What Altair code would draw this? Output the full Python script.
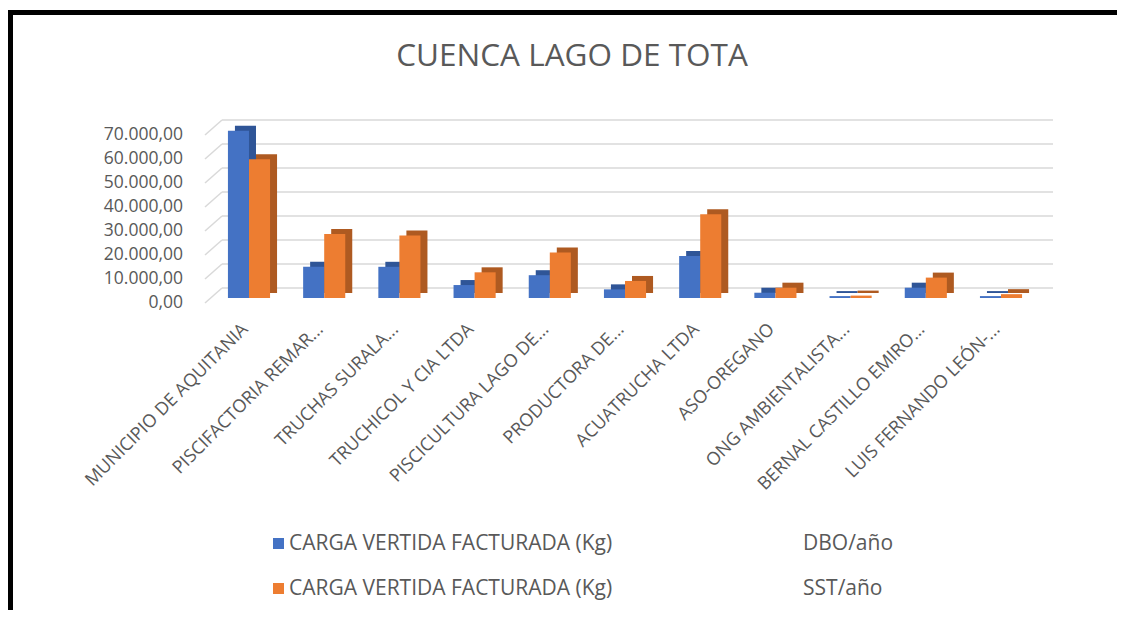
import altair as alt
import pandas as pd

categories = [
    "MUNICIPIO DE AQUITANIA", "PISCIFACTORIA REMAR...", "TRUCHAS SURALA...",
    "TRUCHICOL Y CIA LTDA", "PISCICULTURA LAGO DE...", "PRODUCTORA DE...",
    "ACUATRUCHA LTDA", "ASO-OREGANO", "ONG AMBIENTALISTA...",
    "BERNAL CASTILLO EMIRO...", "LUIS FERNANDO LEÓN-...",
]
dbo = [69700, 13000, 13000, 5400, 9500, 3600, 17500, 2200, 800, 4300, 800]
sst = [57800, 26700, 26000, 10700, 19000, 7100, 34900, 4300, 1000, 8500, 1600]
series = ["CARGA VERTIDA FACTURADA (Kg) DBO/año", "CARGA VERTIDA FACTURADA (Kg) SST/año"]
colors = ["#4472C4", "#ED7D31"]
side_colors = ["#2F5597", "#AE5A21"]
y_ticks = [0, 10000, 20000, 30000, 40000, 50000, 60000, 70000]
y_tick_labels = ["0,00", "10.000,00", "20.000,00", "30.000,00", "40.000,00",
                 "50.000,00", "60.000,00", "70.000,00"]

rows = []
for c, a, b in zip(categories, dbo, sst):
    rows.append({"cat": c, "series": series[0], "value": a})
    rows.append({"cat": c, "series": series[1], "value": b})
df = pd.DataFrame(rows)
grid_df = pd.DataFrame({"tick": y_ticks, "label": y_tick_labels})

FONT = "Open Sans"
GREY = "#595959"
W, H = 840, 168
YMAX = 70000
PX = YMAX / H  # data units per pixel
P_IN, P_OUT = 0.44, 0.305
STEP = W / (len(categories) - P_IN + 2 * P_OUT)
BW = (1 - P_IN) * STEP
DEPTH = 7

xenc = alt.X("cat:N", sort=categories,
             scale=alt.Scale(paddingInner=P_IN, paddingOuter=P_OUT),
             axis=alt.Axis(title=None, labelAngle=-45, labelAlign="right",
                           labelBaseline="top", labelPadding=22, labelOffset=-10,
                           labelFontSize=18, labelFont=FONT, labelColor=GREY,
                           domain=False, ticks=False, labelLimit=400))
yscale = alt.Scale(domain=[0, YMAX], nice=False)

grid = alt.Chart(grid_df).mark_rule(color="#D9D9D9", strokeWidth=1.5, yOffset=-10).encode(
    y=alt.Y("tick:Q", scale=yscale, axis=None),
    x=alt.value(17), x2=alt.value(W + 8),
)
diag = alt.Chart(grid_df).transform_calculate(
    y_front=f"datum.tick - 5 * {PX}", y_back=f"datum.tick + 10 * {PX}"
).mark_rule(color="#D9D9D9", strokeWidth=1.5).encode(
    y=alt.Y("y_front:Q", scale=yscale, axis=None),
    y2=alt.Y2("y_back:Q"),
    x=alt.value(0), x2=alt.value(17),
)
ylabels = alt.Chart(grid_df).mark_text(
    align="right", baseline="middle", dy=5, fontSize=17.5, font=FONT, color=GREY
).encode(
    y=alt.Y("tick:Q", scale=yscale, axis=None),
    text="label:N",
    x=alt.value(-22),
)

shadow = alt.Chart(df).mark_bar(yOffset=-5).encode(
    x=xenc,
    xOffset=alt.XOffset("series:N", sort=series,
                        scale=alt.Scale(range=[DEPTH, DEPTH + BW], paddingInner=0)),
    y=alt.Y("value:Q", scale=yscale, axis=None),
    color=alt.condition(alt.datum.series == series[0],
                        alt.value(side_colors[0]), alt.value(side_colors[1])),
)

nbsp = "\u00a0" * 35
front = alt.Chart(df).mark_bar().encode(
    x=xenc,
    xOffset=alt.XOffset("series:N", sort=series),
    y=alt.Y("value:Q", scale=yscale, axis=None),
    color=alt.Color("series:N", sort=series,
                    scale=alt.Scale(domain=series, range=colors),
                    legend=alt.Legend(title=None, orient="none", legendX=63,
                                      legendY=403, direction="vertical",
                                      symbolType="square", symbolSize=121,
                                      symbolStrokeWidth=0, labelFontSize=21,
                                      labelFont=FONT, labelColor=GREY,
                                      rowPadding=23, labelOffset=0,
                                      labelLimit=1000, padding=0,
                                      labelExpr="replace(datum.label, ' (Kg) ', ' (Kg)" + nbsp + "')")),
)

border = alt.Chart(pd.DataFrame({"k": [0]})).mark_rect(
    fillOpacity=0, stroke="black", strokeWidth=5).encode(
    x=alt.value(-194.5), x2=alt.value(1000), y=alt.value(-117.5), y2=alt.value(600))

chart = alt.layer(grid, diag, ylabels, shadow, front, border).resolve_scale(
    xOffset="independent"
).properties(
    width=W, height=H,
    title=alt.TitleParams("CUENCA LAGO DE TOTA", fontSize=31.5, color=GREY, font=FONT,
                          fontWeight="normal", anchor="middle", dx=-53, frame="group",
                          offset=-87, baseline="alphabetic"),
    autosize=alt.AutoSizeParams(type="none"),
    padding={"left": 197, "top": 122, "right": 72, "bottom": 312},
    background="white",
).configure_view(stroke=None)

chart.save("out.html", embed_options={"renderer": "svg", "actions": False})
